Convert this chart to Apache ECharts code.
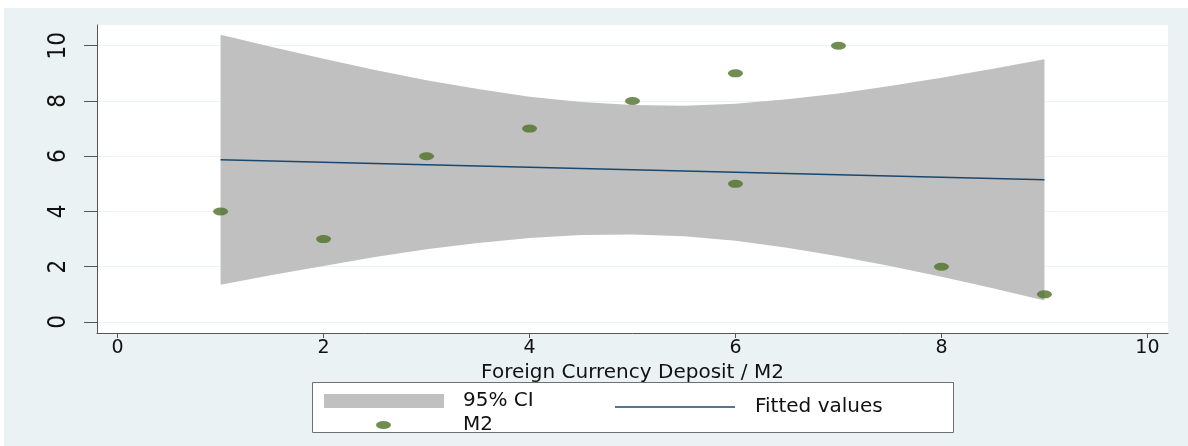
<!DOCTYPE html>
<html>
<head>
<meta charset="utf-8">
<title>Foreign Currency Deposit / M2</title>
<script src="https://cdn.jsdelivr.net/npm/echarts@6.0.0/dist/echarts.min.js"></script>
<style>
    html, body { margin: 0; padding: 0; background: #fff; }
    #chart { position: absolute; left: 4px; top: 8px; width: 1184px; height: 438px; }
</style>
</head>
<body>
<div id="chart"></div>
<script>
//observed points
var xObs = [1, 2, 3, 4, 5, 6, 6, 7, 8, 9];
var yObs = [4, 3, 6, 7, 8, 9, 5, 10, 2, 1];

//fitted line
var fitX = [1, 9];
var fitY = [5.87, 5.15];

//95% CI band
var ciX = [1, 1.5, 2, 2.5, 3, 3.5, 4, 4.5, 5, 5.5, 6, 6.5, 7, 7.5, 8, 8.5, 9];
var ciUpper = [10.40, 9.95, 9.53, 9.12, 8.75, 8.43, 8.15, 7.96, 7.85, 7.83, 7.90, 8.06, 8.27, 8.54, 8.84, 9.17, 9.51];
var ciLower = [1.35, 1.70, 2.03, 2.35, 2.63, 2.86, 3.04, 3.15, 3.17, 3.10, 2.94, 2.69, 2.38, 2.03, 1.64, 1.22, 0.78];

//tick labels
var xTicks = [0, 2, 4, 6, 8, 10];
var yTicks = [0, 2, 4, 6, 8, 10];

function pairs(xs, ys) {
    var out = [];
    for (var i = 0; i < xs.length; i++) {
        out.push([xs[i], ys[i]]);
    }
    return out;
}

var bandData = [];
for (var i = 0; i < ciX.length; i++) {
    bandData.push([ciX[i], ciLower[i], ciUpper[i]]);
}

//one polygon: upper edge left to right, lower edge back
function renderBand(params, api) {
    if (params.dataIndex !== 0) {
        return null;
    }
    var pts = [];
    for (var i = 0; i < bandData.length; i++) {
        pts.push(api.coord([bandData[i][0], bandData[i][2]]));
    }
    for (var j = bandData.length - 1; j >= 0; j--) {
        pts.push(api.coord([bandData[j][0], bandData[j][1]]));
    }
    return {
        type: 'polygon',
        shape: { points: pts },
        style: { fill: '#c0c0c0', stroke: null }
    };
}

var labelFont = "'DejaVu Sans', sans-serif";
var axisGray = '#555';
var textColor = '#111';

var myChart = echarts.init(document.getElementById('chart'));

var option = {
    animation: false,
    backgroundColor: '#eaf2f3',
    textStyle: { fontFamily: labelFont },
    grid: {
        left: 93,
        top: 17,
        right: 20,
        bottom: 113,
        show: true,
        backgroundColor: '#fff',
        borderWidth: 0
    },
    //legend frame
    graphic: [{
        type: 'rect',
        left: 308,
        top: 374,
        z: 1,
        shape: { width: 641, height: 50 },
        style: { fill: '#fff', stroke: '#707070', lineWidth: 1 }
    }],
    legend: [{
        left: 320,
        top: 383,
        padding: 0,
        z: 5,
        itemWidth: 120,
        itemHeight: 14,
        data: [{ name: '95% CI', icon: 'rect', itemStyle: { color: '#c0c0c0', borderWidth: 0 } }],
        textStyle: { fontSize: 20, color: textColor, padding: [0, 0, 0, 14] }
    }, {
        left: 611,
        top: 389,
        padding: 0,
        z: 5,
        itemWidth: 120,
        itemHeight: 1.5,
        data: [{ name: 'Fitted values', icon: 'rect', itemStyle: { color: '#1a476f', borderWidth: 0 } }],
        textStyle: { fontSize: 20, color: textColor, padding: [0, 0, 0, 15] }
    }, {
        left: 372,
        top: 407,
        padding: 0,
        z: 5,
        itemWidth: 15,
        itemHeight: 8,
        data: [{ name: 'M2', icon: 'path://M0,4 A7.5,4 0 1,0 15,4 A7.5,4 0 1,0 0,4 Z', itemStyle: { color: '#4e7127' } }],
        textStyle: { fontSize: 20, color: textColor, padding: [0, 0, 0, 67] }
    }],
    xAxis: {
        type: 'value',
        min: -0.2,
        max: 10.2,
        name: 'Foreign Currency Deposit / M2',
        nameLocation: 'middle',
        nameGap: 25,
        nameTextStyle: { fontSize: 20, color: textColor, fontFamily: labelFont },
        axisLine: { show: true, onZero: false, lineStyle: { color: axisGray, width: 1 } },
        axisTick: { show: true, length: 5, customValues: xTicks, lineStyle: { color: axisGray } },
        axisLabel: { customValues: xTicks, fontSize: 19, color: textColor, margin: 6 },
        splitLine: { show: false }
    },
    yAxis: {
        type: 'value',
        min: -0.4,
        max: 10.75,
        axisLine: { show: true, onZero: false, lineStyle: { color: axisGray, width: 1 } },
        axisTick: { show: true, length: 13, customValues: yTicks, lineStyle: { color: axisGray } },
        axisLabel: {
            customValues: yTicks,
            rotate: 90,
            fontSize: 24,
            color: textColor,
            margin: 26,
            fontFamily: "'Liberation Sans Narrow', 'DejaVu Sans Condensed', sans-serif"
        },
        splitLine: { show: true, lineStyle: { color: '#eaf2f3', width: 1 } }
    },
    series: [{
        name: '95% CI',
        type: 'custom',
        renderItem: renderBand,
        data: bandData,
        encode: { x: 0, y: [1, 2] },
        itemStyle: { color: '#c0c0c0' },
        silent: true,
        z: 2
    }, {
        name: 'Fitted values',
        type: 'line',
        data: pairs(fitX, fitY),
        symbol: 'none',
        itemStyle: { color: '#1a476f' },
        lineStyle: { color: '#1a476f', width: 1.5 },
        z: 3
    }, {
        name: 'M2',
        type: 'scatter',
        data: pairs(xObs, yObs),
        symbol: 'circle',
        symbolSize: [15, 8],
        itemStyle: { color: '#4e7127' },
        z: 4
    }]
};

myChart.setOption(option);
</script>
</body>
</html>
